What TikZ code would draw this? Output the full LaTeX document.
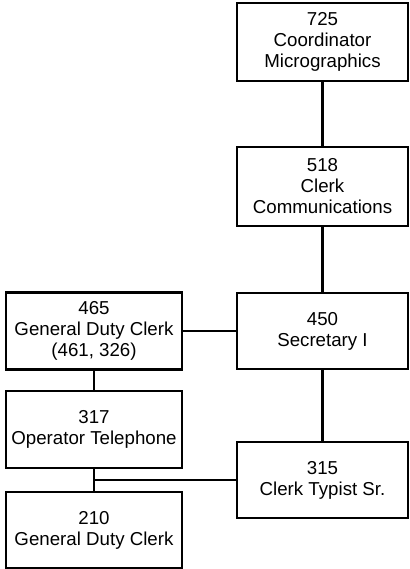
\documentclass[tikz,border=0pt]{standalone}
\usepackage{fontspec}
\setmainfont{Liberation Sans}
\begin{document}
\begin{tikzpicture}[x=1pt,y=1pt,
  job/.style={draw, line width=2.5pt, rectangle, align=center, inner sep=0pt,
    font=\fontsize{18.7}{21}\selectfont},
  link/.style={line width=2.5pt}]
\useasboundingbox (0,0) rectangle (409,-569);
% right column
\node[job, minimum width=171, minimum height=78] (b725) at (322.5,-42) {725\\Coordinator\\Micrographics};
\node[job, minimum width=171, minimum height=79] (b518) at (322.5,-186.5) {518\\Clerk\\Communications};
\node[job, minimum width=171, minimum height=76] (b450) at (322.5,-331) {450\\Secretary I};
\node[job, minimum width=171, minimum height=76] (b315) at (322.5,-480) {315\\Clerk Typist Sr.};
% left column
\node[job, minimum width=176, minimum height=77] (b465) at (94,-331) {465\\General Duty Clerk\\(461, 326)};
\node[job, minimum width=176, minimum height=77] (b317) at (94,-429.5) {317\\Operator Telephone};
\node[job, minimum width=176, minimum height=76] (b210) at (94,-530) {210\\General Duty Clerk};
% connectors
\draw[link] (b725.south) -- (b518.north);
\draw[link] (b518.south) -- (b450.north);
\draw[link] (b450.south) -- (b315.north);
\draw[link] (b465.east) -- (b450.west);
\draw[link] (b465.south) -- (b317.north);
\draw[link] (b317.south) -- (b210.north);
\coordinate (junc) at (b317.south |- b315.west);
\draw[link] (b315.west) -- (junc);
\end{tikzpicture}
\end{document}
